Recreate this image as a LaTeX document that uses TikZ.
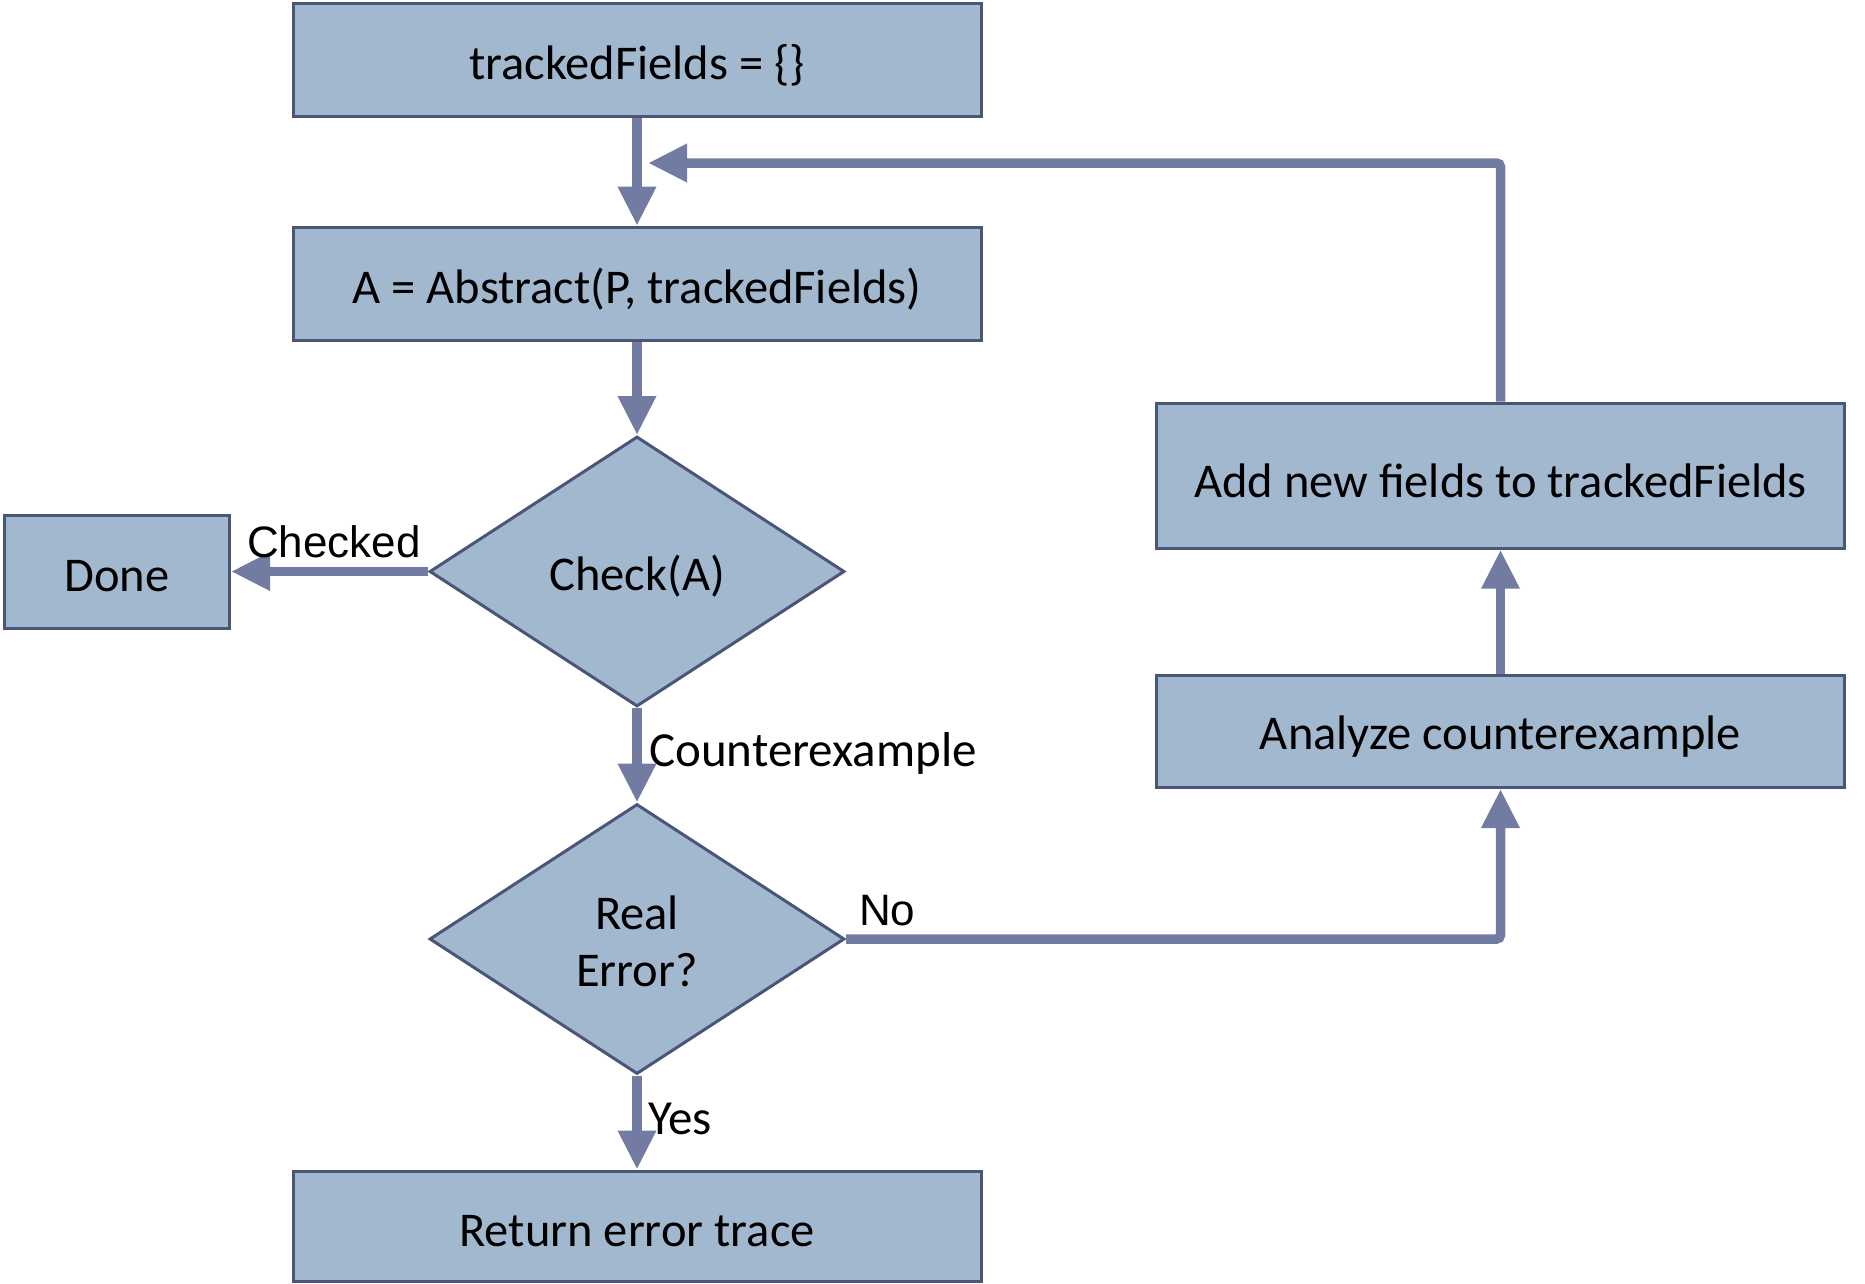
\documentclass[tikz,border=0pt]{standalone}
\usepackage{fontspec}
\setmainfont{Carlito}
\newfontfamily\labfont{Liberation Sans}
\usetikzlibrary{shapes.geometric,arrows.meta}
\definecolor{boxfill}{HTML}{A2B8CF}
\definecolor{boxline}{HTML}{4A5578}
\definecolor{conn}{HTML}{727CA3}
\newcommand{\lowtxt}[1]{\raisebox{-5pt}[\height][\depth]{#1}}
\tikzset{
  boxnode/.style={draw=boxline, fill=boxfill, line width=3pt, inner sep=0pt,
    font=\fontsize{48.5}{57}\selectfont, align=center},
  decnode/.style={boxnode, diamond},
  conline/.style={draw=conn, line width=9.5pt},
  conarrow/.style={conline, -{Triangle[width=36pt,length=39pt]}},
  lbl/.style={inner sep=0pt, font=\fontsize{49}{56}\selectfont},
  lblb/.style={inner sep=0pt, font=\labfont\fontsize{44}{50}\selectfont},
}
\begin{document}
\begin{tikzpicture}[x=1pt,y=-1pt]
\useasboundingbox (0,0) rectangle (1865,1283);
\node[boxnode, minimum width=688pt, minimum height=113pt] (init) at (637,60) {\lowtxt{trackedFields = \{\}}};
\node[boxnode, minimum width=688pt, minimum height=113pt] (abs) at (637,283.7) {\lowtxt{A = Abstract(P, trackedFields)}};
\node[decnode, minimum width=415pt, minimum height=270pt] (chk) at (637,571.5) {\lowtxt{Check(A)}};
\node[boxnode, minimum width=225pt, minimum height=113pt] (done) at (117,571.5) {\lowtxt{Done}};
\node[decnode, minimum width=415pt, minimum height=270pt] (real) at (637,939) {\raisebox{-8pt}[\height][\depth]{\begin{tabular}{@{}c@{}}Real\\Error?\end{tabular}}};
\node[boxnode, minimum width=688pt, minimum height=110pt] (ret) at (637,1226) {\lowtxt{Return error trace}};
\node[boxnode, minimum width=688pt, minimum height=145pt] (add) at (1500.5,475.7) {\lowtxt{Add new fields to trackedFields}};
\node[boxnode, minimum width=688pt, minimum height=112pt] (ana) at (1500.5,731.5) {\lowtxt{Analyze counterexample}};
\coordinate (loopend) at (648,163);

\draw[conarrow] (init.south) -- (abs.north);
\draw[conarrow] (abs.south) -- (chk.north);
\draw[conarrow] (chk.west) -- (done.east);
\draw[conarrow] (chk.south) -- (real.north);
\draw[conarrow] (real.south) -- (ret.north);
\draw[conarrow, rounded corners=4pt] (real.east) -- (ana.south |- real.east) -- (ana.south);
\draw[conarrow] (ana.north) -- (add.south);
\draw[conarrow, rounded corners=4pt] (add.north) -- (add.north |- loopend) -- (loopend);

\node[lblb, anchor=base] (lchecked) at (334,557) {Checked};
\node[lbl, anchor=base west] (lcex) at (649,766) {Counterexample};
\node[lblb, anchor=base west] (lno) at (859,925) {No};
\node[lbl, anchor=base west] (lyes) at (648,1134) {Yes};
\end{tikzpicture}
\end{document}
